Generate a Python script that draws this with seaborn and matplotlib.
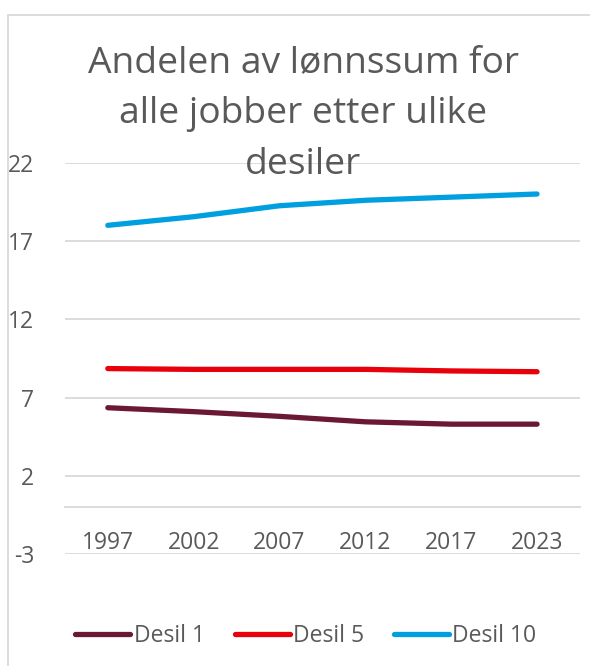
import pandas as pd
import matplotlib.pyplot as plt
import seaborn as sns
from matplotlib.lines import Line2D

# data
years = ["1997", "2002", "2007", "2012", "2017", "2023"]
desil_1 = [6.35, 6.1, 5.8, 5.45, 5.3, 5.3]
desil_5 = [8.85, 8.8, 8.8, 8.8, 8.7, 8.65]
desil_10 = [18.0, 18.55, 19.25, 19.6, 19.8, 20.0]
series_names = ["Desil 1", "Desil 5", "Desil 10"]
yticks = [-3, 2, 7, 12, 17, 22]

df = pd.DataFrame({"year": years * 3,
                   "value": desil_1 + desil_5 + desil_10,
                   "serie": [n for n in series_names for _ in years]})

sns.set_style("white")
plt.rcParams['font.family'] = ['Open Sans', 'DejaVu Sans']
grey = "#595959"
gridc = "#d9d9d9"

fig = plt.figure(figsize=(5.9, 6.66), dpi=100)
ax = fig.add_axes([0.110, 0.168, 0.873, 0.5877])

sns.lineplot(data=df, x="year", y="value", hue="serie", ax=ax,
             palette=["#6B1834", "#E8000B", "#00A0E0"], linewidth=3.8,
             solid_capstyle="round", legend=False, sort=False)

ax.set_xlim(-0.5, 5.5)
ax.set_ylim(-3, 22)
ax.set_yticks(yticks)
ax.set_yticklabels([str(t) for t in yticks])
ax.yaxis.grid(True, color=gridc, linewidth=1.3)
ax.set_axisbelow(True)
for s in ["top", "right", "left"]:
    ax.spines[s].set_visible(False)
ax.spines["bottom"].set_position(("data", 0))
ax.spines["bottom"].set_color(gridc)
ax.spines["bottom"].set_linewidth(1.3)
ax.tick_params(axis="y", length=0, pad=22, labelsize=16.5, labelcolor=grey)
ax.tick_params(axis="x", length=0, pad=17, labelsize=16.5, labelcolor=grey)
ax.set_xlabel("")
ax.set_ylabel("")

fig.text(303 / 590, 1 - 114 / 666, "Andelen av lønnssum for\nalle jobber etter ulike\ndesiler",
         ha="center", va="center", fontsize=26.8, color=grey, linespacing=1.55)

handles = [Line2D([], [], color=c, linewidth=3.8, solid_capstyle="round")
           for c in ["#6B1834", "#E8000B", "#00A0E0"]]
leg = fig.legend(handles, series_names, loc="center", ncol=3,
                 bbox_to_anchor=(306 / 590, 1 - 636 / 666), frameon=False,
                 fontsize=16.5, handlelength=2.4, handletextpad=0.15,
                 columnspacing=1.3, labelcolor=grey)

# chart frame (left and top edges visible)
fig.add_artist(Line2D([8 / 590, 8 / 590], [0, 1 - 15 / 666], color=gridc, linewidth=1.3,
                      transform=fig.transFigure))
fig.add_artist(Line2D([8 / 590, 1], [1 - 15 / 666, 1 - 15 / 666], color=gridc, linewidth=1.3,
                      transform=fig.transFigure))

fig.savefig("out.png", dpi=100)
